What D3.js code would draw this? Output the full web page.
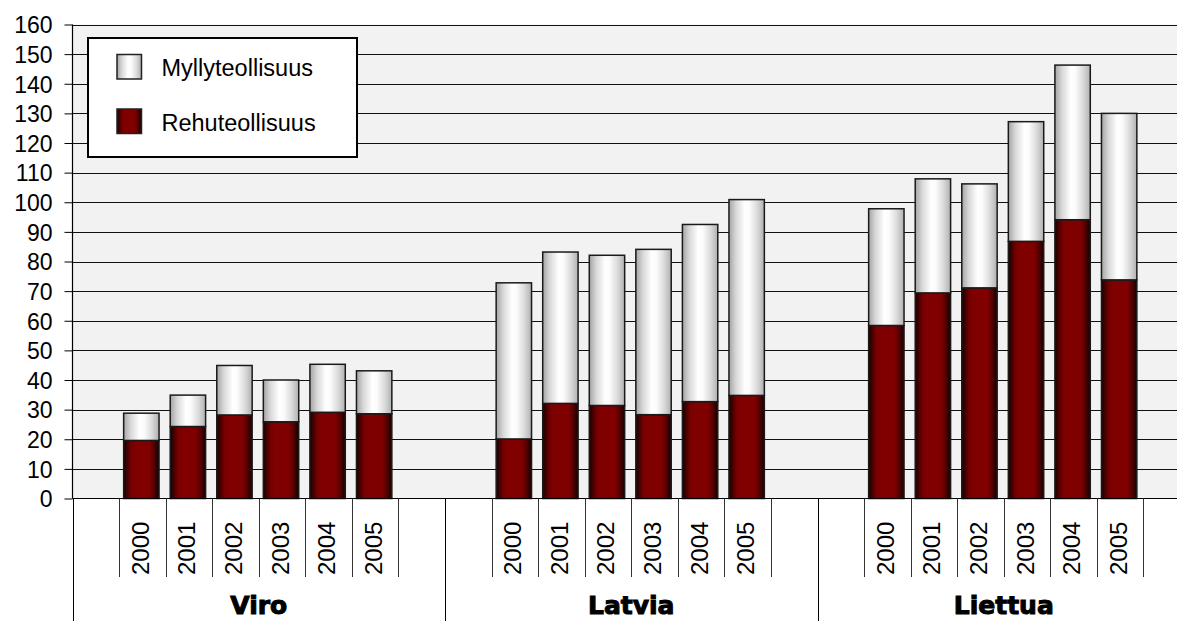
<!DOCTYPE html>
<html>
<head>
<meta charset="utf-8">
<script src="https://cdn.jsdelivr.net/npm/d3@7"></script>
<style>
  html, body { margin: 0; padding: 0; background: #ffffff; overflow: hidden; }
  svg { display: block; }
</style>
</head>
<body>
<svg id="chart" width="1177" height="621"></svg>
<script>
// ---- data ----
const countries = ["Viro", "Latvia", "Liettua"];
const years = ["2000", "2001", "2002", "2003", "2004", "2005"];
const seriesNames = ["Myllyteollisuus", "Rehuteollisuus"];
// values in order: Viro 2000..2005, Latvia 2000..2005, Liettua 2000..2005
const rehuteollisuus = [19.6, 24.3, 28.2, 25.9, 29.1, 28.6,
                        20.1, 32.1, 31.4, 28.3, 32.7, 34.8,
                        58.4, 69.4, 71.1, 86.8, 94.1, 73.8];
const myllyteollisuus = [9.2, 10.6, 16.7, 14.1, 16.2, 14.5,
                         52.7, 51.1, 50.7, 55.8, 59.8, 66.1,
                         39.4, 38.5, 35.1, 40.4, 52.2, 56.2];
const yTicks = [0, 10, 20, 30, 40, 50, 60, 70, 80, 90, 100, 110, 120, 130, 140, 150, 160];

// ---- layout ----
const svg = d3.select("#chart");
const W = 1177, H = 621;
const pLeft = 72.5, pRight = 1190, pTop = 24.5, pBottom = 498.5;
const FONT = "'Liberation Sans', Arial, Helvetica, sans-serif";

const y = d3.scaleLinear().domain([0, 160]).range([pBottom, pTop]);
const gx = d3.scaleBand().domain(countries).range([pLeft, pRight]).paddingInner(0).paddingOuter(0);
const slots = ["_pre", ...years, "_post"];
const ix = d3.scaleBand().domain(slots).range([0, gx.bandwidth()]);
const barW = ix.bandwidth() * 0.76;

const defs = svg.append("defs");
const gM = defs.append("linearGradient").attr("id", "gradM").attr("x1", "0").attr("x2", "1").attr("y1", "0").attr("y2", "0");
[[0, "#a4a4a4"], [0.2, "#d8d8d8"], [0.45, "#ffffff"], [0.58, "#fbfbfb"], [0.8, "#dadada"], [1, "#b0b0b0"]]
  .forEach(([o, c]) => gM.append("stop").attr("offset", o).attr("stop-color", c));
const gR = defs.append("linearGradient").attr("id", "gradR").attr("x1", "0").attr("x2", "1").attr("y1", "0").attr("y2", "0");
[[0, "#1a0000"], [0.22, "#780000"], [0.35, "#800000"], [0.72, "#800000"], [0.85, "#580000"], [1, "#160000"]]
  .forEach(([o, c]) => gR.append("stop").attr("offset", o).attr("stop-color", c));

// plot background
svg.append("rect").attr("x", pLeft).attr("y", pTop).attr("width", pRight - pLeft).attr("height", pBottom - pTop)
  .attr("fill", "#f2f2f2");

// gridlines
svg.append("g").selectAll("line").data(yTicks.filter(v => v > 0)).join("line")
  .attr("x1", pLeft).attr("x2", pRight)
  .attr("y1", d => Math.round(y(d)) + 0.5).attr("y2", d => Math.round(y(d)) + 0.5)
  .attr("stroke", "#111").attr("stroke-width", 1);

// y axis
const yAxis = d3.axisLeft(y).tickValues(yTicks).tickSize(8).tickPadding(12).tickFormat(d3.format("d"));
const yg = svg.append("g").attr("transform", `translate(${pLeft},0)`).call(yAxis);
yg.select(".domain").remove();
yg.selectAll(".tick line").attr("stroke", "#000");
yg.selectAll(".tick text").attr("font-family", FONT).attr("font-size", "23px").attr("fill", "#000")
  .attr("x", -20).attr("dy", "0.36em");

// bars
const rows = [];
countries.forEach((c, ci) => years.forEach((yr, yi) => {
  const i = ci * years.length + yi;
  rows.push({ country: c, year: yr, rehu: rehuteollisuus[i], mylly: myllyteollisuus[i] });
}));
const stack = d3.stack().keys(["rehu", "mylly"])(rows);
const barX = d => gx(d.data.country) + ix(d.data.year) + (ix.bandwidth() - barW) / 2 - 1;

svg.append("g").selectAll("g").data(stack).join("g")
  .attr("fill", s => s.key === "rehu" ? "url(#gradR)" : "url(#gradM)")
  .selectAll("rect").data(s => s).join("rect")
  .attr("x", barX)
  .attr("width", barW)
  .attr("y", d => y(d[1]))
  .attr("height", d => y(d[0]) - y(d[1]))
  .attr("stroke", "#1a1a1a").attr("stroke-width", 1.5);

// x axis line and value axis line
svg.append("line").attr("x1", pLeft).attr("x2", pRight).attr("y1", pBottom).attr("y2", pBottom)
  .attr("stroke", "#000").attr("stroke-width", 1.2);
svg.append("line").attr("x1", pLeft).attr("x2", pLeft).attr("y1", pTop).attr("y2", pBottom)
  .attr("stroke", "#000").attr("stroke-width", 1.2);

const cat = svg.append("g");
// group separators
const seps = countries.map(c => gx(c)).concat([gx(countries[countries.length - 1]) + gx.bandwidth()]);
cat.selectAll("line.sep").data(seps).join("line").attr("class", "sep")
  .attr("x1", d => Math.round(d) + 0.5).attr("x2", d => Math.round(d) + 0.5)
  .attr("y1", pBottom).attr("y2", H)
  .attr("stroke", "#000").attr("stroke-width", 1);
// year ticks
const yearTicks = [];
countries.forEach(c => {
  years.forEach(yr => yearTicks.push(gx(c) + ix(yr)));
  yearTicks.push(gx(c) + ix(years[years.length - 1]) + ix.bandwidth());
});
cat.selectAll("line.yt").data(yearTicks).join("line").attr("class", "yt")
  .attr("x1", d => Math.round(d) + 0.5).attr("x2", d => Math.round(d) + 0.5)
  .attr("y1", pBottom).attr("y2", 577)
  .attr("stroke", "#333").attr("stroke-width", 1);
// year labels
const yl = [];
countries.forEach(c => years.forEach(yr => yl.push({ c, yr })));
cat.selectAll("text.yl").data(yl).join("text").attr("class", "yl")
  .attr("transform", d => `translate(${gx(d.c) + ix(d.yr) + ix.bandwidth() / 2 + 6.5},575) rotate(-90)`)
  .attr("text-anchor", "start")
  .attr("font-family", FONT).attr("font-size", "24px").attr("fill", "#000")
  .text(d => d.yr);
// country labels
cat.selectAll("text.cl").data(countries).join("text").attr("class", "cl")
  .attr("x", d => gx(d) + gx.bandwidth() / 2).attr("y", 614)
  .attr("text-anchor", "middle")
  .attr("font-family", "'DejaVu Sans', sans-serif").attr("font-weight", "bold").attr("font-size", "25px")
  .attr("fill", "#000").attr("stroke", "#000").attr("stroke-width", 1)
  .text(d => d);

// legend
const lg = svg.append("g");
lg.append("rect").attr("x", 88).attr("y", 38).attr("width", 269).attr("height", 119)
  .attr("fill", "#fff").attr("stroke", "#000").attr("stroke-width", 2);
const legendItems = [
  { name: seriesNames[0], fill: "url(#gradM)", sy: 54.5, ty: 76 },
  { name: seriesNames[1], fill: "url(#gradR)", sy: 109, ty: 130.5 }
];
lg.selectAll("rect.sw").data(legendItems).join("rect").attr("class", "sw")
  .attr("x", 117).attr("y", d => d.sy).attr("width", 24.5).attr("height", 24.5)
  .attr("fill", d => d.fill).attr("stroke", "#222").attr("stroke-width", 1.5);
lg.selectAll("text.lt").data(legendItems).join("text").attr("class", "lt")
  .attr("x", 161.5).attr("y", d => d.ty)
  .attr("font-family", FONT).attr("font-size", "23.5px").attr("fill", "#000")
  .text(d => d.name);
</script>
</body>
</html>
